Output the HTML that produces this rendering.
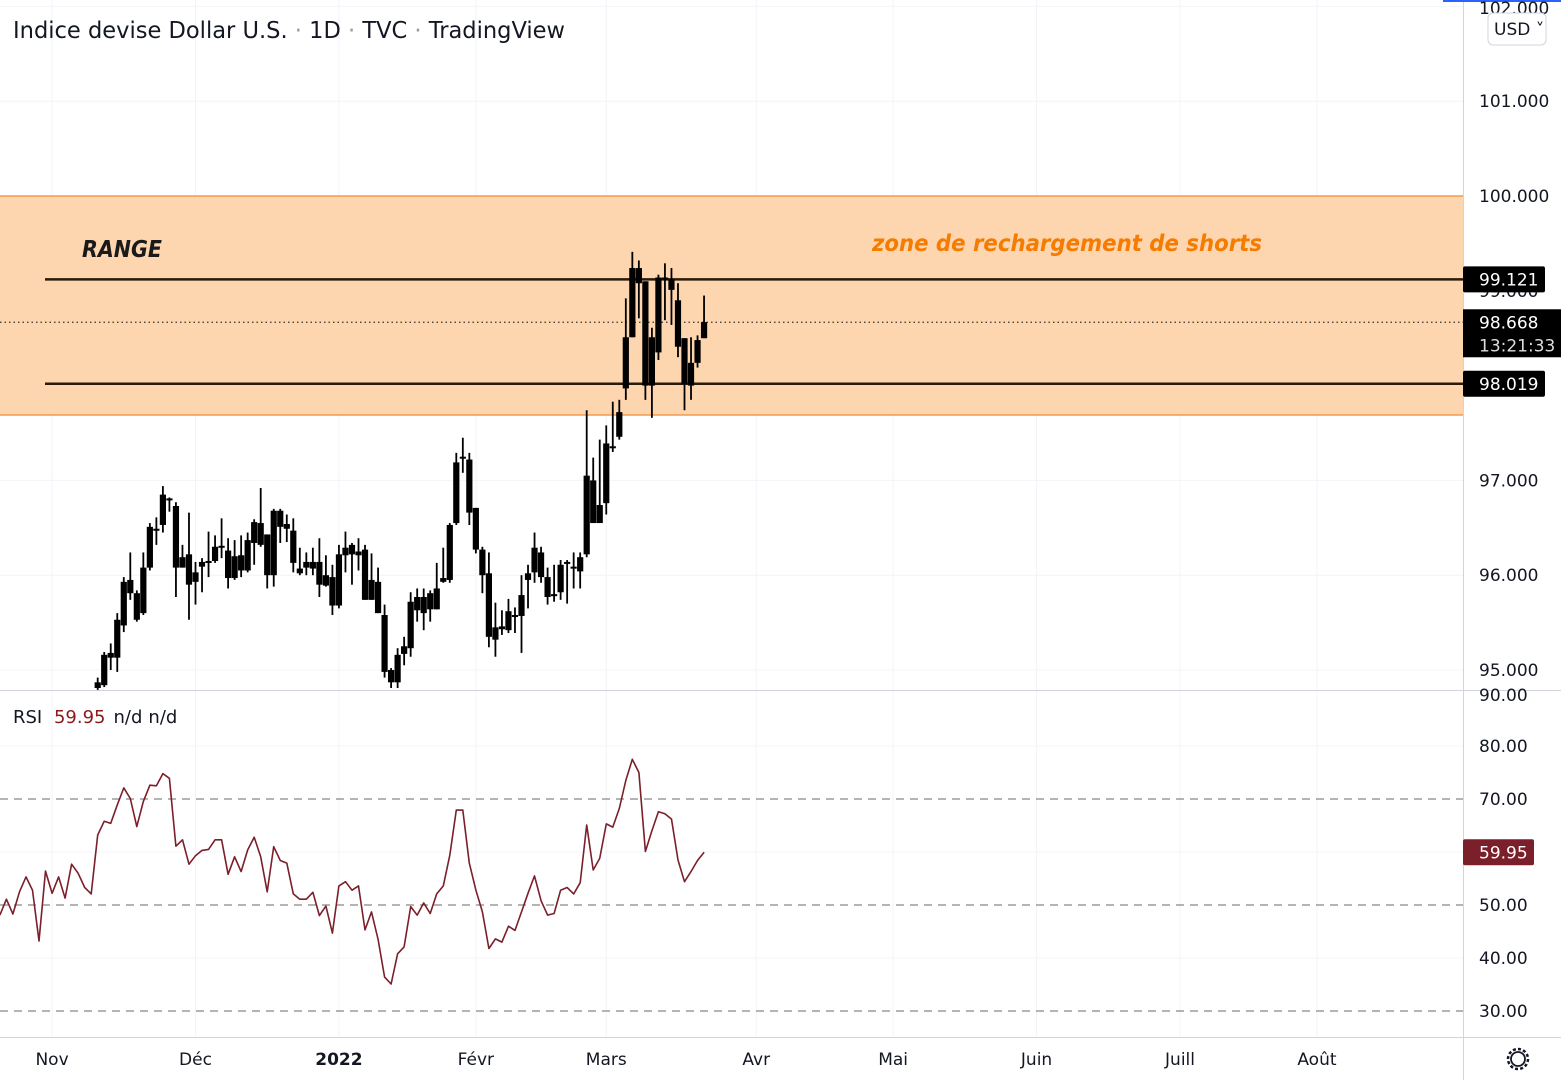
<!DOCTYPE html>
<html><head><meta charset="utf-8">
<style>
html,body{margin:0;padding:0;background:#fff;width:1561px;height:1080px;overflow:hidden}
svg{display:block;font-family:"DejaVu Sans","Liberation Sans",sans-serif}
</style></head>
<body>
<svg id="chart" width="1561" height="1080" viewBox="0 0 1561 1080" xmlns="http://www.w3.org/2000/svg">
<rect x="0" y="0" width="1561" height="1080" fill="#fff"/>
<g id="grid"></g>
<g id="zone"></g>
<g id="candles"></g>
<g id="rsi"></g>
<g id="axes"></g>
<text x="13" y="38" font-size="23" fill="#131722" textLength="552" lengthAdjust="spacingAndGlyphs">Indice devise Dollar U.S. <tspan fill="#999">·</tspan> 1D <tspan fill="#999">·</tspan> TVC <tspan fill="#999">·</tspan> TradingView</text>
<text x="82" y="257" font-size="23" font-weight="bold" font-style="italic" fill="#1a1a1a" textLength="80" lengthAdjust="spacingAndGlyphs">RANGE</text>
<text x="872" y="251" font-size="23" font-weight="bold" font-style="italic" fill="#f57c00" textLength="390" lengthAdjust="spacingAndGlyphs">zone de rechargement de shorts</text>
<text x="13" y="723" font-size="18" fill="#131722">RSI <tspan fill="#8b1a1a" dx="6">59.95</tspan><tspan dx="8">n/d</tspan><tspan dx="6">n/d</tspan></text>
</svg>
<script>
const open_ = [94.81,94.84,95.13,95.13,95.47,95.81,95.81,95.60,96.08,96.47,96.53,96.81,96.73,96.08,96.22,95.93,96.09,96.13,96.15,96.30,96.26,95.97,96.05,96.05,96.34,96.32,96.43,96.00,96.68,96.54,96.47,96.07,96.08,96.07,96.14,95.89,95.98,95.68,96.21,96.22,96.25,96.27,95.74,95.93,95.58,94.87,94.87,95.17,95.23,95.63,95.77,95.64,95.64,95.93,95.95,96.55,97.23,97.22,96.71,96.27,96.02,95.32,95.43,95.42,95.56,95.57,95.95,96.03,96.24,95.98,95.79,95.82,96.12,96.07,96.04,96.22,97.00,96.55,96.76,97.35,97.46,97.97,98.51,99.24,99.10,98.00,98.35,99.14,99.12,98.90,98.50,98.00,98.24,98.50];
const high_ = [94.92,95.19,95.28,95.60,95.98,96.24,95.84,96.24,96.55,96.61,96.94,96.82,96.77,96.32,96.66,96.14,96.18,96.46,96.42,96.60,96.39,96.37,96.42,96.45,96.59,96.92,96.43,96.70,96.70,96.64,96.60,96.29,96.24,96.29,96.39,96.21,96.11,96.32,96.46,96.34,96.39,96.32,96.23,96.08,95.69,95.02,95.23,95.35,95.82,95.86,95.86,95.84,96.13,96.29,96.55,97.29,97.45,97.29,96.71,96.30,96.24,95.71,95.63,95.75,95.66,96.00,96.11,96.45,96.30,96.08,96.11,96.16,96.16,96.24,96.24,97.74,97.24,97.43,97.58,97.83,97.85,98.92,99.41,99.32,99.10,98.61,99.17,99.29,99.24,99.08,98.50,98.51,98.53,98.95];
const low_ = [94.79,94.82,95.00,94.98,95.40,95.74,95.51,95.58,96.05,96.32,96.45,96.67,95.77,96.08,95.53,95.69,95.82,95.98,96.13,96.18,95.86,95.95,95.98,96.03,96.11,96.30,95.86,95.88,96.34,96.35,96.03,96.00,96.00,96.00,95.77,95.88,95.58,95.65,96.03,95.90,96.05,95.74,95.74,95.60,94.92,94.81,94.81,95.05,95.14,95.51,95.42,95.51,95.64,95.92,95.92,96.53,97.08,96.53,96.23,95.81,95.24,95.14,95.37,95.39,95.39,95.18,95.65,95.92,95.92,95.69,95.72,95.74,95.70,95.86,95.86,96.19,96.55,96.55,96.64,97.30,97.43,97.85,98.51,98.71,97.85,97.66,98.27,98.69,98.64,98.30,97.74,97.85,98.19,98.50];
const close_ = [94.87,95.16,95.18,95.53,95.93,95.95,95.53,96.08,96.51,96.49,96.85,96.79,96.08,96.19,95.90,96.03,96.14,96.15,96.30,96.31,95.97,96.20,96.21,96.37,96.56,96.55,96.00,96.68,96.51,96.49,96.13,96.02,96.14,96.14,95.90,96.00,95.68,96.22,96.29,96.32,96.21,95.74,95.95,95.60,94.98,95.00,95.16,95.25,95.72,95.77,95.60,95.81,95.86,95.97,96.53,97.19,97.25,96.66,96.27,96.00,95.35,95.45,95.46,95.62,95.58,95.79,96.02,96.29,95.98,95.77,95.80,96.11,96.14,96.09,96.19,97.05,96.55,96.74,97.39,97.36,97.72,98.51,99.24,99.08,98.00,98.51,99.14,99.12,99.01,98.41,98.02,98.24,98.48,98.67];
// RSI from bar index -15 to 93
const rsiValues = [48.1,51.1,48.3,52.5,55.3,52.8,43.2,56.4,52.2,55.3,51.3,57.7,56.0,53.3,52.1,63.2,65.8,65.4,68.9,72.1,70.1,64.8,69.5,72.6,72.5,74.8,73.9,61.1,62.3,57.7,59.3,60.3,60.5,62.3,62.3,55.8,59.1,56.3,60.4,62.8,59.1,52.5,61.0,58.4,57.9,52.1,51.1,51.1,52.4,48.0,49.8,44.7,53.6,54.4,52.8,53.6,
45.3,48.7,43.5,36.4,35.1,40.8,42.1,49.7,48.1,50.4,48.4,52.1,53.6,59.4,67.9,67.9,57.9,52.8,48.7,41.8,43.6,43.0,46.0,45.2,48.7,52.2,55.5,50.8,48.1,48.4,52.8,53.3,52.1,54.2,65.1,56.6,58.8,65.3,64.7,68.2,73.5,77.5,75.0,60.1,64.0,67.6,67.2,66.2,58.5,54.4,56.3,58.4,59.95];
const priceTicks = [101,100,97,96,95];
const priceTickLabels = ["101.000","100.000","97.000","96.000","95.000"];
const rsiTicks = [80,70,50,40,30];
const rsiTickLabels = ["80.00","70.00","50.00","40.00","30.00"];
const monthLabels = ["Nov","Déc","2022","Févr","Mars","Avr","Mai","Juin","Juill","Août"];
const monthBarIndex = [-7,15,37,58,78,101,122,144,166,187];
const zoneTop = 100.0, zoneBottom = 97.69;
const rangeHigh = 99.121, rangeLow = 98.019, lastPrice = 98.668, rsiLast = 59.95;

const NS = "http://www.w3.org/2000/svg";
const X0 = 97.7, DX = 6.52;
const xAt = i => X0 + i*DX;
const yP = p => 196 + (100-p)*94.8;
const yR = v => 799 + (70-v)*5.3;
function mk(tag, attrs, parent){const e=document.createElementNS(NS,tag);for(const k in attrs)e.setAttribute(k,attrs[k]);parent.appendChild(e);return e;}
const grid=document.getElementById('grid'), zone=document.getElementById('zone'), cg=document.getElementById('candles'), rg=document.getElementById('rsi'), ax=document.getElementById('axes');

[102,101,100,99,98,97,96,95].forEach(p=>{const l=mk('line',{x1:0,x2:1463,y1:yP(p),y2:yP(p),stroke:'#f3f4f8','stroke-width':1},grid);

});
[80,60,40].forEach(v=>{const l=mk('line',{x1:0,x2:1463,y1:yR(v),y2:yR(v),stroke:'#f3f4f8','stroke-width':1},grid);

});
monthBarIndex.forEach(i=>{const l=mk('line',{x1:xAt(i),x2:xAt(i),y1:0,y2:1037,stroke:'#f3f4f8','stroke-width':1},grid);

});

let z=mk('rect',{x:0,y:yP(zoneTop),width:1463,height:yP(zoneBottom)-yP(zoneTop),fill:'#fdd5ae'},zone);


[zoneTop,zoneBottom].forEach(p=>{const l=mk('line',{x1:0,x2:1463,y1:yP(p),y2:yP(p),stroke:'#f59a4a','stroke-width':1.5},zone);

});
[rangeHigh,rangeLow].forEach(p=>{const l=mk('line',{x1:45,x2:1463,y1:yP(p),y2:yP(p),stroke:'#2a1a0a','stroke-width':2.5},zone);

});
let pl=mk('line',{x1:0,x2:1463,y1:yP(lastPrice),y2:yP(lastPrice),stroke:'#333','stroke-width':1.2,'stroke-dasharray':'1.5 3'},zone);



for(let i=0;i<open_.length;i++){
  const x=xAt(i);
  const w=mk('line',{x1:x,x2:x,y1:yP(high_[i]),y2:yP(low_[i]),stroke:'#000','stroke-width':1.8},cg);
  
  
  const t=Math.max(open_[i],close_[i]), b=Math.min(open_[i],close_[i]);
  const r=mk('rect',{x:x-3.1,y:yP(t),width:6.2,height:Math.max(2,yP(b)-yP(t)),fill:'#000'},cg);
  
  
}

[70,50,30].forEach(v=>{const l=mk('line',{x1:0,x2:1463,y1:yR(v),y2:yR(v),stroke:'#888','stroke-width':1.2,'stroke-dasharray':'8 6'},rg);

});
const pts=rsiValues.map((v,k)=>xAt(k-15).toFixed(1)+','+yR(v).toFixed(1)).join(' ');
const rl=mk('polyline',{points:pts,fill:'none',stroke:'#7b1f2a','stroke-width':1.6,'stroke-linejoin':'round'},rg);



let sep=mk('line',{x1:0,x2:1561,y1:690.5,y2:690.5,stroke:'#d1d4dc','stroke-width':1},ax);


let va=mk('line',{x1:1463.5,x2:1463.5,y1:0,y2:1080,stroke:'#d1d4dc','stroke-width':1},ax);


let ha=mk('line',{x1:0,x2:1561,y1:1037.5,y2:1037.5,stroke:'#d1d4dc','stroke-width':1},ax);


let bl=mk('rect',{x:1443,y:0,width:118,height:2,fill:'#2962ff'},ax);


function label(txt,x,y,opts,name,inter){const t=mk('text',Object.assign({x:x,y:y,'font-size':17,fill:'#131722'},opts||{}),ax);t.textContent=txt;

return t;}
label("102.000",1479,14,{},'price-tick-label');
priceTicks.forEach((p,k)=>label(priceTickLabels[k],1479,yP(p)+6,{},'price-tick-label'));
label("99.000",1479,yP(99)+6,{fill:'#131722'},'price-tick-label');
label("90.00",1479,701,{},'rsi-tick-label');
rsiTicks.forEach((v,k)=>label(rsiTickLabels[k],1479,yR(v)+6,{},'rsi-tick-label'));
let usd=mk('rect',{x:1488,y:13,width:58,height:32,rx:5,fill:'#fff',stroke:'#d1d4dc'},ax);


label("USD ˅",1494,35,{},'currency-label',true);
function tag(val,txt,name,fill,h){const y=yP(val);const r=mk('rect',{x:1463,y:y-h/2,width:82,height:h,rx:2,fill:fill},ax);


label(txt,1479,y+6,{fill:'#fff'},name+'-text');}
tag(rangeHigh,rangeHigh.toFixed(3),'range-high-tag','#000',26);
let lt=mk('rect',{x:1463,y:yP(lastPrice)-13,width:98,height:48,fill:'#000'},ax);


label(lastPrice.toFixed(3),1479,yP(lastPrice)+6,{fill:'#fff'},'last-price-text');
label("13:21:33",1479,yP(lastPrice)+29,{fill:'#ddd'},'countdown-text');
tag(rangeLow,rangeLow.toFixed(3),'range-low-tag','#000',26);
const ry=yR(rsiLast);
let rt=mk('rect',{x:1463,y:ry-13,width:71,height:26,rx:2,fill:'#7b1f2a'},ax);


label(rsiLast.toFixed(2),1479,ry+6,{fill:'#fff'},'rsi-value-text');
monthLabels.forEach((m,k)=>label(m,xAt(monthBarIndex[k]),1065,{'text-anchor':'middle','font-weight':m==='2022'?'bold':'normal'},'time-tick-label'));
const gear=mk('g',{transform:'translate(1518,1059)'},ax);


mk('circle',{r:7,fill:'none',stroke:'#131722','stroke-width':1.8},gear);
mk('circle',{r:10,fill:'none',stroke:'#131722','stroke-width':2.5,'stroke-dasharray':'3 2.2'},gear);
</script>
</body></html>
